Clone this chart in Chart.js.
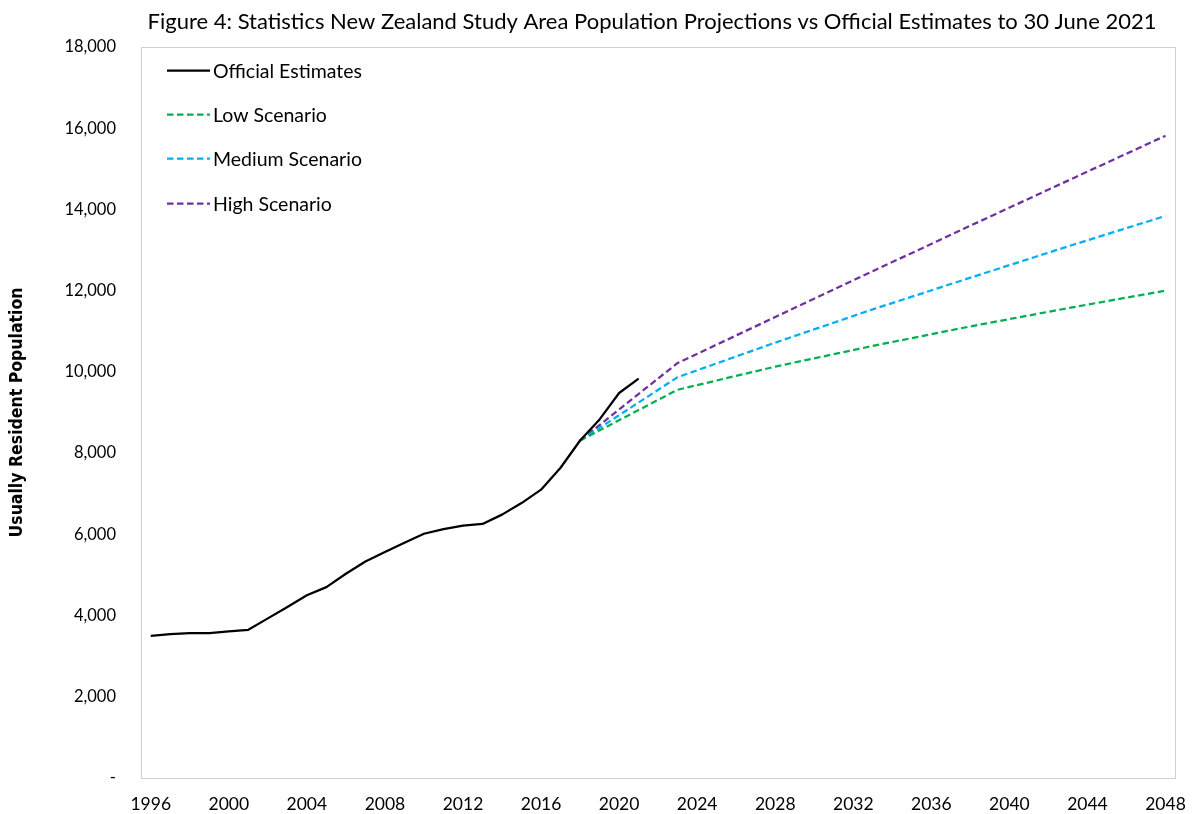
<!DOCTYPE html>
<html>
<head>
<meta charset="utf-8">
<title>Study Area Population Projections</title>
<script src="https://cdn.jsdelivr.net/npm/chart.js@4.4.1/dist/chart.umd.min.js"></script>
<style>
  html, body { margin: 0; padding: 0; background: #ffffff; }
  #wrap { width: 1202px; height: 814px; }
</style>
</head>
<body>
<div id="wrap"><canvas id="chart" width="1202" height="814"></canvas></div>
<script>
// Official usually resident population estimates (30 June)
const officialYears = [1996, 1997, 1998, 1999, 2000, 2001, 2002, 2003, 2004, 2005,
  2006, 2007, 2008, 2009, 2010, 2011, 2012, 2013, 2014, 2015, 2016, 2017, 2018,
  2019, 2020, 2021];
const officialValues = [3500, 3540, 3565, 3565, 3610, 3650, 3930, 4210, 4500, 4700,
  5030, 5330, 5565, 5795, 6015, 6130, 6215, 6255, 6485, 6770, 7100, 7640, 8310,
  8830, 9480, 9835];

// Statistics New Zealand projection scenarios (base 2018)
const projectionYears = [2018, 2023, 2028, 2033, 2038, 2043, 2048];
const lowValues    = [8310, 9560, 10130, 10640, 11120, 11570, 12000];
const mediumValues = [8310, 9870, 10720, 11540, 12320, 13090, 13840];
const highValues   = [8310, 10220, 11350, 12480, 13600, 14710, 15815];

// Axis tick labels
const xTickYears = [1996, 2000, 2004, 2008, 2012, 2016, 2020, 2024, 2028, 2032,
  2036, 2040, 2044, 2048];
const yTickValues = [0, 2000, 4000, 6000, 8000, 10000, 12000, 14000, 16000, 18000];

const titleText = 'Figure 4: Statistics New Zealand Study Area Population Projections vs Official Estimates to 30 June 2021';
const yAxisTitle = 'Usually Resident Population';

const FONT = 'Lato, "Open Sans", sans-serif';
const NARROW = '"Liberation Sans Narrow", "DejaVu Sans Condensed", Lato, sans-serif';
Chart.defaults.font.family = FONT;
Chart.defaults.color = '#000000';

const pairUp = (xs, ys) => xs.map((x, i) => ({ x: x, y: ys[i] }));

// Title drawn above the plot area
const titlePlugin = {
  id: 'figureTitle',
  afterDraw(chart) {
    const ctx = chart.ctx;
    ctx.save();
    ctx.font = '22px ' + FONT;
    ctx.fillStyle = '#000000';
    ctx.textAlign = 'center';
    ctx.textBaseline = 'middle';
    ctx.fillText(titleText, 652, 22);
    ctx.restore();
  }
};

// Light border around the plot area
const plotBorder = {
  id: 'plotBorder',
  beforeDatasetsDraw(chart) {
    const a = chart.chartArea;
    const ctx = chart.ctx;
    ctx.save();
    ctx.strokeStyle = '#d0d0d0';
    ctx.lineWidth = 1;
    ctx.strokeRect(Math.round(a.left) + 0.5, Math.round(a.top) + 0.5,
      Math.round(a.right - a.left), Math.round(a.bottom - a.top));
    ctx.restore();
  }
};

// Legend placed inside the top-left of the plot area
const innerLegend = {
  id: 'innerLegend',
  afterDatasetsDraw(chart) {
    const a = chart.chartArea;
    const ctx = chart.ctx;
    ctx.save();
    chart.data.datasets.forEach((ds, i) => {
      const y = Math.round(a.top + 23 + i * 44.2) + 0.5;
      const x0 = a.left + 26, x1 = a.left + 69;
      ctx.beginPath();
      ctx.strokeStyle = ds.borderColor;
      ctx.lineWidth = ds.borderWidth;
      ctx.setLineDash(ds.borderDash || []);
      ctx.moveTo(x0, y);
      ctx.lineTo(x1, y);
      ctx.stroke();
      ctx.setLineDash([]);
      ctx.font = '19.5px ' + FONT;
      ctx.fillStyle = '#000000';
      ctx.textAlign = 'left';
      ctx.textBaseline = 'middle';
      ctx.fillText(ds.label, x1 + 3, y + 1);
    });
    ctx.restore();
  }
};

const dash = [6.5, 3.5];

new Chart(document.getElementById('chart'), {
  type: 'line',
  data: {
    datasets: [
      { label: 'Official Estimates', data: pairUp(officialYears, officialValues),
        borderColor: '#000000', borderWidth: 2.25 },
      { label: 'Low Scenario', data: pairUp(projectionYears, lowValues),
        borderColor: '#00B050', borderWidth: 2.25, borderDash: dash },
      { label: 'Medium Scenario', data: pairUp(projectionYears, mediumValues),
        borderColor: '#00B0F0', borderWidth: 2.25, borderDash: dash },
      { label: 'High Scenario', data: pairUp(projectionYears, highValues),
        borderColor: '#7030A0', borderWidth: 2.25, borderDash: dash }
    ]
  },
  options: {
    responsive: false,
    animation: false,
    layout: { padding: { top: 47, right: 19, left: 0, bottom: 0 } },
    elements: {
      point: { radius: 0, hoverRadius: 0 },
      line: { tension: 0, fill: false, borderCapStyle: 'butt', borderJoinStyle: 'round' }
    },
    plugins: {
      legend: { display: false },
      title: { display: false },
      tooltip: { enabled: false }
    },
    scales: {
      x: {
        type: 'linear',
        min: 1995.5,
        max: 2048.5,
        grid: { display: false, drawTicks: false },
        border: { display: false },
        afterBuildTicks(scale) {
          scale.ticks = xTickYears.map(v => ({ value: v }));
        },
        afterFit(scale) { scale.height = 36; },
        ticks: {
          autoSkip: false,
          maxRotation: 0,
          padding: 16,
          font: { size: 17.5 },
          color: '#000000',
          callback: v => String(v)
        }
      },
      y: {
        min: 0,
        max: 18000,
        grid: { display: false, drawTicks: false },
        border: { display: false },
        afterBuildTicks(scale) {
          scale.ticks = yTickValues.map(v => ({ value: v }));
        },
        afterFit(scale) { scale.width = 141; },
        ticks: {
          padding: 25,
          font: { size: 16.5 },
          color: '#000000',
          callback: v => v === 0 ? '-' : v.toLocaleString('en-US')
        },
        title: {
          display: true,
          text: yAxisTitle,
          font: { family: NARROW, size: 17.5, weight: 'bold' },
          color: '#000000',
          padding: { top: 7, bottom: 0 }
        }
      }
    }
  },
  plugins: [titlePlugin, plotBorder, innerLegend]
});
</script>
</body>
</html>
